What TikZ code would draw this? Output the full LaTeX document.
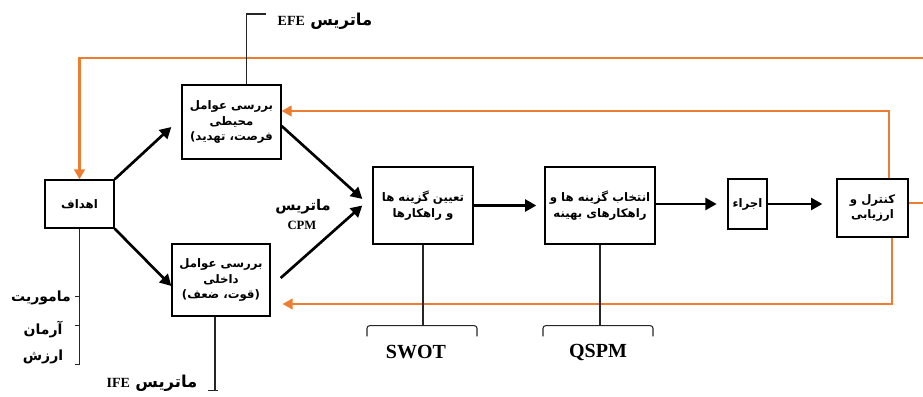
\documentclass[tikz,border=0pt]{standalone}
\usepackage{fontspec}
\setmainfont{Liberation Serif}
\newfontfamily\fa[Script=Arabic]{DejaVu Sans}
\newfontfamily\dv{DejaVu Sans}
\TeXXeTstate=1
\usetikzlibrary{arrows.meta}
\definecolor{fborange}{RGB}{237,125,49}
\newcommand\R[1]{\beginR #1\endR}
\newcommand\lp{{\dv\bfseries(}}
\newcommand\rp{{\dv\bfseries)}}

\begin{document}
\begin{tikzpicture}[x=0.75pt,y=-0.75pt,
  box/.style={draw, line width=1pt, align=center, inner sep=0pt,
    font=\fa\bfseries\fontsize{8.8}{11.6}\selectfont},
  flow/.style={line width=2pt, -{Triangle[length=8.5pt,width=9pt]}},
  fb/.style={draw=fborange, line width=1.6pt},
  fbarr/.style={fb, -{Triangle[length=7.5pt,width=8pt]}},
  thinline/.style={line width=0.8pt, draw=black!85},
  falbl/.style={font=\fa\bfseries\fontsize{10.5}{12}\selectfont, inner sep=0pt},
  latlbl/.style={font=\bfseries\fontsize{15}{17}\selectfont, inner sep=0pt},
  smlat/.style={font=\bfseries\fontsize{9.5}{11}\selectfont, inner sep=0pt}]

\useasboundingbox (0,0) rectangle (923,396);

% process boxes
\node[box, minimum width=51.75pt, minimum height=36pt]   (goal) at (79.5,204)  {\R{اهداف}};
\node[box, minimum width=74.25pt, minimum height=55.5pt] (env)  at (231.5,122) {\R{بررسی عوامل}\\\R{محیطی}\\\lp\R{فرصت، تهدید}};
\node[box, minimum width=73.5pt,  minimum height=54pt]   (int)  at (221,280)   {\R{بررسی عوامل}\\\R{داخلی}\\\lp\R{قوت، ضعف}\rp};
\node[box, minimum width=75pt,    minimum height=57.75pt] (det) at (423,205.5) {\R{تعیین گزینه ها}\\\R{و راهکارها}};
\node[box, minimum width=82.5pt,  minimum height=57.75pt] (sel) at (600,205.5) {\R{انتخاب گزینه ها و}\\\R{راهکارهای بهینه}};
\node[box, minimum width=29.25pt, minimum height=37.5pt] (exe)  at (747.5,204) {\R{اجراء}};
\node[box, minimum width=53.25pt, minimum height=43.5pt] (ctl)  at (872.5,208) {\R{کنترل و}\\\R{ارزیابی}};

% main flow
\draw[flow] (goal.north east) -- ([xshift=-7.5pt,yshift=-3.75pt]env.west);
\draw[flow] (goal.south east) -- ([xshift=0pt,yshift=-4.5pt]int.west);
\draw[flow] ([yshift=-3pt]env.east) -- ([xshift=-7.5pt,yshift=4.9pt]det.west);
\draw[flow] ([xshift=7.5pt,yshift=1.5pt]int.east) -- ([xshift=-7.5pt]det.west);
\draw[flow] (det.east) -- ([xshift=-6pt]sel.west);
\coordinate (exein) at ([xshift=-8pt]exe.west);
\draw[flow] (exein -| sel.east) -- (exein);
\coordinate (ctlin) at ([xshift=-10.5pt]ctl.west);
\draw[flow] (exe.east) -- (exe.east -| ctlin);

% feedback loops
\coordinate (rtop) at (923,58);
\coordinate (rmid) at (923,203);
\draw[fbarr] (rtop) -| (goal.north);
\draw[fb] ([yshift=3.75pt]ctl.east) -- (rmid);
\draw[fbarr] ([xshift=12.4pt]ctl.north) |- ([yshift=8.25pt]env.east);
\draw[fbarr] ([xshift=14.6pt]ctl.south) |- ([xshift=9pt,yshift=-18pt]int.east);

% matrix labels
\node[inner sep=0pt] (efe) at (325,21) {{\bfseries\fontsize{10.5}{12}\selectfont EFE}\hspace{4pt}{\fa\bfseries\fontsize{12.3}{14}\selectfont\R{ماتریس}}};
\coordinate (efetick) at (266,14);
\draw[thinline] ([xshift=10.9pt]env.north) |- (efetick);

\node[inner sep=0pt] (ife) at (152,383) {{\bfseries\fontsize{10.5}{12}\selectfont IFE}\hspace{4pt}{\fa\bfseries\fontsize{12.3}{14}\selectfont\R{ماتریس}}};
\path ([xshift=-4.5pt]int.south) ++(0,74) coordinate (ifeend);
\draw[thinline] ([xshift=-4.5pt]int.south) -- (ifeend);
\draw[thinline] ([xshift=-5pt]ifeend) -- ([xshift=2.5pt]ifeend);

\node[font=\fa\bfseries\fontsize{11}{13}\selectfont, inner sep=0pt] (cpmfa) at (303,207) {\R{ماتریس}};
\node[smlat] (cpm) at (302,225) {CPM};

% SWOT and QSPM brackets
\path (det.south) ++(0,81) coordinate (swotb);
\path (sel.south) ++(0,81) coordinate (qspmb);
\draw[thinline] (det.south) -- (swotb);
\draw[thinline] (sel.south) -- (qspmb);
\draw[thinline, rounded corners=2pt] ([xshift=-42pt,yshift=-8pt]swotb) -- ([xshift=-42pt]swotb) -- ([xshift=40.5pt]swotb) -- ([xshift=40.5pt,yshift=-8pt]swotb);
\draw[thinline, rounded corners=2pt] ([xshift=-42.75pt,yshift=-8pt]qspmb) -- ([xshift=-42.75pt]qspmb) -- ([xshift=39.75pt]qspmb) -- ([xshift=39.75pt,yshift=-8pt]qspmb);
\node[latlbl] (swot) at (416,352) {SWOT};
\node[latlbl] (qspm) at (598,352) {QSPM};

% mission / vision / values
\path (goal.south) ++(0,136) coordinate (gend);
\path (goal.south) ++(0,68) coordinate (tick1);
\path (goal.south) ++(0,97) coordinate (tick2);
\draw[thinline] (goal.south) -- (gend) -- ++(-5,0);
\draw[thinline] (tick1) -- ++(-5,0);
\draw[thinline] (tick2) -- ++(-5,0);
\node[falbl] (mission) at (41,298) {\R{ماموریت}};
\node[falbl] (vision)  at (43,330) {\R{آرمان}};
\node[falbl] (values)  at (43,357) {\R{ارزش}};
\end{tikzpicture}
\end{document}
